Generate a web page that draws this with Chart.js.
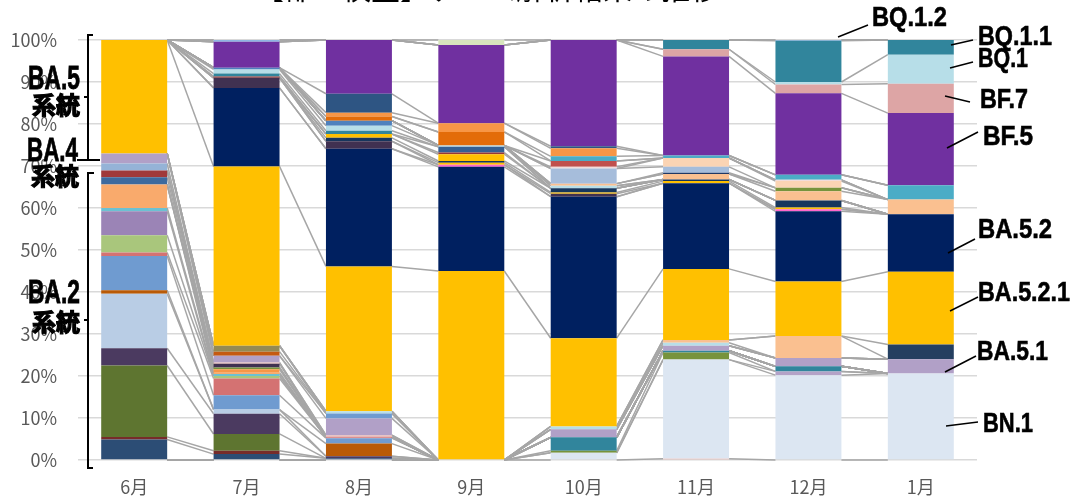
<!DOCTYPE html>
<html lang="ja">
<head>
<meta charset="utf-8">
<title>ゲノム解析結果の推移</title>
<script src="https://cdn.jsdelivr.net/npm/chart.js@4.4.1/dist/chart.umd.min.js"></script>
<style>
  html, body { margin: 0; padding: 0; background: #fff; }
  #wrap { width: 1072px; height: 501px; }
</style>
</head>
<body>
<div id="wrap"><canvas id="chart" width="1072" height="501"></canvas></div>
<script>
'use strict';

const months = ['6月', '7月', '8月', '9月', '10月', '11月', '12月', '1月'];
const yTicks = [0, 10, 20, 30, 40, 50, 60, 70, 80, 90, 100];

// stacking order, bottom to top
const lineages = [
  'その他a', 'BN.1', 'その他b', 'その他c', 'その他d',
  'BA.2', 'BA.2-a', 'BA.2-b', 'BA.2-c', 'BA.2-d', 'BA.2-e', 'BA.2-f', 'BA.2-g', 'BA.2-h', 'BA.2-i',
  'BA.2-j', 'BA.2-k', 'BA.2-l', 'BA.2-m', 'BA.4-a', 'BA.4-b', 'BA.4-c', 'BA.4-d', 'BA.4-e',
  'BA.5.1', 'BA.5-a', 'BA.5-b', 'BA.5-c', 'BA.5-d', 'BA.5-e', 'BA.5-f',
  'BA.5.2.1', 'BA.5.2',
  'BA.5-g', 'BA.5-h', 'BA.5-i', 'BA.5-j', 'BA.5-k', 'BA.5-l', 'BA.5-m', 'BA.5-n', 'BA.5-o', 'BA.5-p',
  'BA.5-q', 'BA.5-r', 'BA.5-s', 'BA.5-t', 'BA.5-u', 'BA.5-v', 'BA.5-w', 'BA.5-x', 'BA.5-y', 'BA.5-z', 'BA.5-zz',
  'BF.5', 'BF.7', 'BQ.1', 'BQ.1.1', 'BQ.1.2', 'BA.5-top',
];

// share (%) per month, same order as lineages
const shares = [
  [0, 0, 0, 0, 0, 0.3, 0, 0],
  [0, 0, 0, 0, 1.7, 23.6, 20.2, 20.6],
  [0, 0, 0, 0, 0, 0, 0.9, 0],
  [0, 0, 0, 0, 0.5, 1.7, 0, 0],
  [0, 0, 0, 0, 3.2, 0.4, 1.2, 0],
  [4.9, 1.4, 0.4, 0, 0, 0, 0, 0],
  [0.6, 0.8, 0, 0, 0, 0, 0, 0],
  [17, 4, 0, 0, 0, 0, 0, 0],
  [4.1, 4.8, 0.5, 0, 0, 0, 0, 0],
  [13, 1, 0, 0, 0, 0, 0, 0],
  [0.8, 0, 3, 0, 0, 0, 0, 0],
  [8.2, 3.4, 1.3, 0, 0, 0, 0, 0],
  [0.8, 4, 0.2, 0, 0, 0, 0, 0],
  [4.1, 0.6, 0, 0, 0, 0, 0, 0],
  [5.7, 0, 0, 0, 0, 0, 0, 0],
  [0.8, 0.5, 0, 0, 0, 0, 0, 0],
  [5.6, 0.3, 0, 0, 0, 0, 0, 0],
  [0, 0.8, 0, 0, 0, 0, 0, 0],
  [0, 0.4, 0, 0, 0, 0, 0, 0],
  [1.7, 0, 0, 0, 0, 0, 0, 0],
  [1.6, 0, 0, 0, 0, 0, 0, 0],
  [0, 0.9, 0, 0, 0, 0, 0, 0],
  [0, 0.3, 0.5, 0, 0, 0, 0, 0],
  [1.7, 0, 0, 0, 0, 0, 0, 0],
  [2.4, 1.6, 4, 0, 1.9, 1.2, 2.0, 3.4],
  [0, 0, 1.2, 0, 0, 0, 0, 0],
  [0, 1, 0, 0, 0, 0, 0, 0],
  [0, 1.4, 0, 0, 0, 0, 0, 0],
  [0, 0, 0.5, 0, 0.7, 0.7, 0, 0],
  [0, 0, 0, 0, 0, 0.7, 5.2, 0],
  [0, 0, 0, 0, 0, 0, 0, 3.5],
  [27, 42.7, 34.5, 45, 21, 16.9, 13, 17.3],
  [0, 18.7, 28, 24.8, 33.7, 20.4, 16.7, 13.7],
  [0, 0, 0, 0.5, 0, 0, 0.5, 0],
  [0, 2.4, 1.8, 0, 0.7, 0, 0, 0],
  [0, 0, 0, 0.5, 0.3, 0.5, 0.4, 0],
  [0, 0, 0.8, 0.4, 1.0, 0.4, 1.7, 0],
  [0, 0, 0.9, 1.6, 0, 0, 0, 0],
  [0, 0.3, 0, 0.4, 0, 0, 0, 0],
  [0, 0, 0, 1.4, 0, 0, 0, 0],
  [0, 0.7, 0.8, 0, 0, 0, 0, 0],
  [0, 1.0, 1.2, 0.3, 0.6, 0, 0, 0],
  [0, 0.4, 1.2, 0, 0, 0, 0, 0],
  [0, 0, 0, 0, 0.5, 1.3, 2.2, 3.5],
  [0, 0, 0, 0, 0, 0, 0.8, 0],
  [0, 0, 0, 0, 0, 0.3, 0, 0],
  [0, 0, 0, 0, 3.6, 1.4, 0, 0],
  [0, 0, 0, 0, 0, 2.1, 1.6, 0],
  [0, 0, 0, 0, 0.4, 0, 0.3, 0],
  [0, 0, 0, 0, 1.4, 0, 0, 0],
  [0, 0, 1.0, 3.2, 0, 0, 0, 0],
  [0, 0, 0, 0, 1.1, 0.6, 1.2, 3.4],
  [0, 0, 0.9, 2.1, 1.9, 0, 0, 0],
  [0, 0, 4.5, 0, 0.5, 0, 0, 0],
  [0, 6.2, 12.8, 18.6, 25.3, 23.6, 19.4, 17.2],
  [0, 0, 0, 0, 0, 1.7, 2.1, 7],
  [0, 0, 0, 0, 0, 0, 0.6, 6.9],
  [0, 0, 0, 0, 0, 2.2, 9.8, 3.5],
  [0, 0.4, 0, 0, 0, 0, 0.2, 0],
  [0, 0, 0, 1.2, 0, 0, 0, 0],
];

const lineageColors = [
  '#f4b0a8', '#dce6f2', '#b3a2c7', '#77933c', '#31859c',
  '#2c4d75', '#772c2a', '#5e7530', '#4b3a60', '#b9cde5', '#b95a06', '#6f9bd0', '#d47272', '#a9c67c', '#9b84b6',
  '#6cc1d2', '#f9aa6c', '#f79646', '#77933c', '#3d6a9e', '#a0393a', '#403151', '#e6b9b8', '#95b3d7',
  '#b1a0c7', '#6f9bd0', '#c55a11', '#948a54', '#b7dee8', '#fac090', '#243f60',
  '#ffc000', '#002060',
  '#ff66cc', '#403151', '#ffc000', '#17365d', '#ffc000', '#953735', '#366092', '#31859c', '#b7dee8', '#4f81bd',
  '#fac090', '#77933c', '#1f3864', '#a6bddb', '#fbd4b4', '#f2dcdb', '#c0504d', '#e36c09', '#4bacc6', '#f79646', '#2e5583',
  '#7030a0', '#dda5a5', '#b7dee8', '#31859c', '#8eb4e3', '#d7e4bd',
];

const rightLabels = ['BQ.1.2', 'BQ.1.1', 'BQ.1', 'BF.7', 'BF.5', 'BA.5.2', 'BA.5.2.1', 'BA.5.1', 'BN.1'];
const leftLabels = ['BA.5', 'BA.4', 'BA.2'];
const groupWord = '系統';

const LABEL_FONT = '"Liberation Sans Narrow", "Liberation Sans", Arial, sans-serif';
const JP_FONT = '"Noto Sans CJK JP", "Noto Sans", sans-serif';

// layout of the hand placed annotations: [textX, textY, width, lineX1, lineY1, lineX2, lineY2]
const rightLabelPos = [
  [872, 18, 75, 838, 37, 868, 25],
  [978, 37, 74, 951, 45, 973, 40],
  [978, 59, 50, 950, 68, 973, 62],
  [980, 100, 48, 945, 96, 970, 102],
  [983, 137, 50, 947, 148, 978, 132],
  [978, 230, 74, 948, 253, 975, 239],
  [978, 293, 92, 950, 311, 978, 297],
  [977, 352, 71, 945, 372, 976, 356],
  [983, 424, 50, 946, 426, 978, 422],
];
const leftLabelPos = [[28, 80, 52, 105], [27, 152, 51, 176], [28, 294, 52, 322]];

function drawFitted(ctx, text, x, y, w, font, heavy) {
  ctx.save();
  ctx.font = font;
  const m = ctx.measureText(text).width;
  ctx.translate(x, y);
  ctx.scale(w / m, 1);
  ctx.textAlign = 'left';
  ctx.textBaseline = 'middle';
  ctx.fillText(text, 0, 0);
  if (heavy) {
    ctx.lineWidth = heavy;
    ctx.strokeText(text, 0, 0);
  }
  ctx.restore();
}

function line(ctx, x1, y1, x2, y2) {
  ctx.beginPath();
  ctx.moveTo(x1, y1);
  ctx.lineTo(x2, y2);
  ctx.stroke();
}

const seriesLines = {
  id: 'seriesLines',
  beforeDatasetsDraw(chart) {
    const ctx = chart.ctx;
    ctx.save();
    ctx.strokeStyle = '#a6a6a6';
    ctx.lineWidth = 1.5;
    chart.data.datasets.forEach((ds, i) => {
      const bars = chart.getDatasetMeta(i).data;
      for (let k = 0; k < bars.length - 1; k++) {
        const a = bars[k], b = bars[k + 1];
        line(ctx, a.x + a.width / 2, a.y, b.x - b.width / 2, b.y);
      }
    });
    ctx.restore();
  },
};

const annotations = {
  id: 'annotations',
  afterDraw(chart) {
    const ctx = chart.ctx;
    ctx.save();
    ctx.fillStyle = '#000';
    ctx.strokeStyle = '#000';

    // title, cut off by the top edge in the source picture
    ctx.font = '29px ' + JP_FONT;
    ctx.textAlign = 'center';
    ctx.textBaseline = 'alphabetic';
    ctx.fillText('【都・検査】ゲノム解析結果の推移', 487, 0);

    ctx.lineWidth = 1.5;
    rightLabels.forEach((txt, i) => {
      const p = rightLabelPos[i];
      line(ctx, p[3], p[4], p[5], p[6]);
      drawFitted(ctx, txt, p[0], p[1], p[2], 'bold 28px ' + LABEL_FONT, 0.6);
    });

    leftLabels.forEach((txt, i) => {
      const p = leftLabelPos[i];
      drawFitted(ctx, txt, p[0], p[1], p[2], 'bold 34px ' + LABEL_FONT, 0.8);
      drawFitted(ctx, groupWord, p[0] + 4, p[3], 48, 'bold 24px ' + JP_FONT, 1.2);
    });

    // brackets
    ctx.lineWidth = 2;
    ctx.beginPath();
    ctx.moveTo(93, 35); ctx.lineTo(88, 35); ctx.lineTo(88, 160);
    ctx.moveTo(88, 97); ctx.lineTo(84, 97);
    ctx.moveTo(77, 160); ctx.lineTo(100, 160);
    ctx.moveTo(94, 173); ctx.lineTo(88, 173); ctx.lineTo(88, 468); ctx.lineTo(93, 468);
    ctx.moveTo(88, 320); ctx.lineTo(84, 320);
    ctx.stroke();
    ctx.restore();
  },
};

const datasets = lineages.map((name, i) => ({
  label: name,
  data: shares[i],
  backgroundColor: lineageColors[i],
  borderWidth: 0,
  barPercentage: 0.587,
  categoryPercentage: 1,
}));

new Chart(document.getElementById('chart'), {
  type: 'bar',
  data: { labels: months, datasets },
  plugins: [seriesLines, annotations],
  options: {
    responsive: false,
    animation: false,
    devicePixelRatio: 1,
    layout: { padding: { top: 40, right: 95, left: 0, bottom: 0 } },
    plugins: { legend: { display: false }, tooltip: { enabled: false } },
    scales: {
      x: {
        stacked: true,
        grid: { display: false, drawTicks: false },
        border: { display: false },
        ticks: { color: '#595959', padding: 16, font: { size: 18, family: JP_FONT } },
        afterFit(scale) { scale.height = 41; },
      },
      y: {
        stacked: true,
        min: 0,
        max: 100,
        afterBuildTicks(scale) { scale.ticks = yTicks.map(v => ({ value: v })); },
        grid: { color: '#d9d9d9', lineWidth: 1.5, drawTicks: false },
        border: { display: false },
        ticks: { color: '#595959', padding: 21, font: { size: 18, family: JP_FONT }, callback: v => v + '%' },
        afterFit(scale) { scale.width = 78; },
      },
    },
  },
});
</script>
</body>
</html>
